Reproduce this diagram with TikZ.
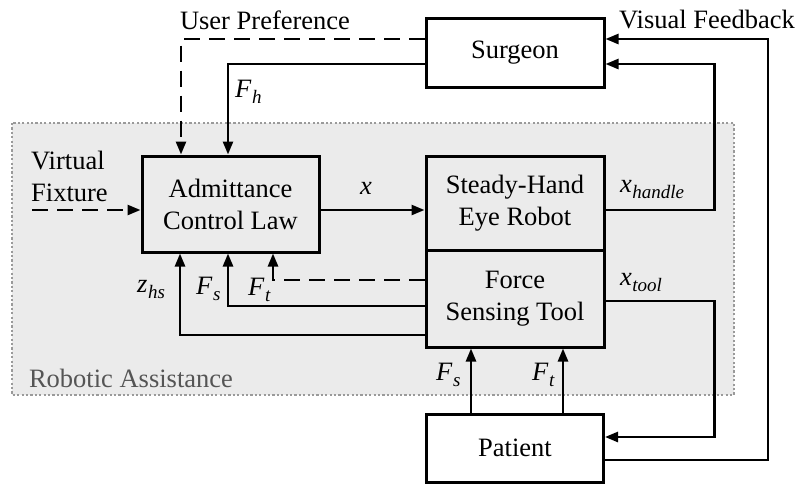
\documentclass[tikz,border=0pt]{standalone}
\usepackage{fontspec}
\setmainfont{Liberation Serif}
\newfontfamily\diagfont{Liberation Serif}
\usetikzlibrary{arrows.meta,calc}
\definecolor{regionfill}{HTML}{EBEBEB}
\definecolor{regionline}{HTML}{9A9A9A}
\definecolor{regiontext}{HTML}{555555}
\newcommand{\varlab}[2]{\textit{#1}\kern0.5pt\raisebox{-6pt}{\fontsize{19}{20}\selectfont\textit{#2}}}
\begin{document}
\begin{tikzpicture}[x=1pt,y=-1pt,
  box/.style={draw,line width=3pt,inner sep=0pt,align=center,font=\diagfont\fontsize{26.5}{32}\selectfont},
  conn/.style={line width=2.5pt,-{Triangle[length=13pt,width=10pt]}},
  dsh/.style={dash pattern=on 16pt off 9pt},
  lbl/.style={font=\diagfont\fontsize{26.5}{32}\selectfont,inner sep=0pt}
]
\useasboundingbox (0,0) rectangle (801,485);
\draw[fill=regionfill,draw=regionline,line width=2.2pt,dash pattern=on 2.2pt off 2.2pt] (12,123) rectangle (734,395);

\node[box,minimum width=178,minimum height=69] (surg) at (515,52.5) {Surgeon};
\node[box,minimum width=177,minimum height=96] (adm) at (230.5,204) {Admittance\\Control Law};
\node[box,minimum width=178,minimum height=94] (steady) at (515,203) {Steady-Hand\\Eye Robot};
\node[box,minimum width=178,minimum height=97] (force) at (515,298.5) {Force\\Sensing Tool};
\node[box,minimum width=177,minimum height=68] (pat) at (515,448) {Patient};

\coordinate (vf) at (32,210);

% surgeon -> admittance
\draw[conn,dsh] ($(surg.west)+(0,-13.5)$) -| ($(adm.north)+(-49.5,0)$);
\draw[conn] ($(surg.west)+(0,11.5)$) -| ($(adm.north)+(-2.5,0)$);
% virtual fixture
\draw[conn,dsh] (vf) -- ($(adm.west)+(0,6)$);
% x
\draw[conn] ($(adm.east)+(0,6)$) -- ($(steady.west)+(0,7)$);
% x_handle
\draw[conn] ($(steady.east)+(0,7)$) -- ++(109,0) |- ($(surg.east)+(0,11.5)$);
% x_tool
\draw[conn] ($(force.east)+(0,2.5)$) -- ++(109,0) |- ($(pat.east)+(0,-11)$);
% visual feedback
\draw[conn] ($(pat.east)+(0,12)$) -- ++(163,0) |- ($(surg.east)+(0,-13.5)$);
% patient -> force sensing tool
\draw[conn] ($(pat.north)+(-44,0)$) -- ($(force.south)+(-44,0)$);
\draw[conn] ($(pat.north)+(48,0)$) -- ($(force.south)+(48,0)$);
% force sensing tool -> admittance
\draw[conn] ($(force.west)+(0,36.5)$) -| ($(adm.south)+(-50.5,0)$);
\draw[conn] ($(force.west)+(0,7.5)$) -| ($(adm.south)+(-2.5,0)$);
\draw[conn,dsh] ($(force.west)+(0,-18.5)$) -| ($(adm.south)+(42.5,0)$);

% labels
\node[lbl] (lup) at (265,20) {User Preference};
\node[lbl] (lvf) at (707,20) {Visual Feedback};
\node[lbl,anchor=west] (lfh) at (235,92) {\varlab{F}{h}};
\node[lbl,anchor=west,align=left] (lvirt) at (31,176) {Virtual\\Fixture};
\node[lbl] (lx) at (366,188) {\textit{x}};
\node[lbl,anchor=west] (lxh) at (620,190) {\varlab{x}{handle}};
\node[lbl,anchor=west] (lxt) at (620,283) {\varlab{x}{tool}};
\node[lbl,anchor=west] (lzhs) at (137,290) {\varlab{z}{hs}};
\node[lbl,anchor=west] (lfs) at (196,289) {\varlab{F}{s}};
\node[lbl,anchor=west] (lft) at (248,290) {\varlab{F}{t}};
\node[lbl,anchor=west] (lfs2) at (436,375) {\varlab{F}{s}};
\node[lbl,anchor=west] (lft2) at (532,375) {\varlab{F}{t}};
\node[lbl,text=regiontext] (lra) at (131,378) {Robotic Assistance};
\end{tikzpicture}
\end{document}
